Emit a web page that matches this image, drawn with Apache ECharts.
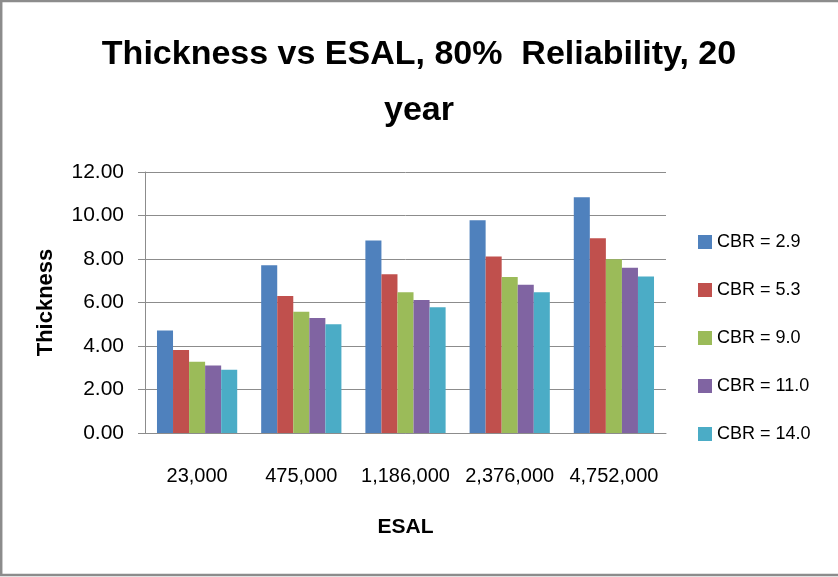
<!DOCTYPE html>
<html>
<head>
<meta charset="utf-8">
<script src="https://cdn.jsdelivr.net/npm/echarts@6/dist/echarts.min.js"></script>
<style>html,body{margin:0;padding:0;background:#fff;}#c{width:838px;height:577px;}</style>
</head>
<body>
<div id="c"></div>
<script>
const categories = ['23,000', '475,000', '1,186,000', '2,376,000', '4,752,000'];
const seriesNames = ['CBR = 2.9', 'CBR = 5.3', 'CBR = 9.0', 'CBR = 11.0', 'CBR = 14.0'];
const cbr29 = [4.71, 7.71, 8.85, 9.78, 10.84];
const cbr53 = [3.82, 6.30, 7.30, 8.12, 8.95];
const cbr90 = [3.28, 5.58, 6.47, 7.17, 7.99];
const cbr110 = [3.10, 5.29, 6.12, 6.82, 7.60];
const cbr140 = [2.91, 5.00, 5.78, 6.47, 7.19];
const colors = ['#4F81BD', '#C0504D', '#9BBB59', '#8064A2', '#4BACC6'];
const allValues = [cbr29, cbr53, cbr90, cbr110, cbr140];

const font = "'Liberation Sans', Arial, sans-serif";

const chart = echarts.init(document.getElementById('c'), null, {renderer: 'canvas'});
chart.setOption({
  animation: false,
  backgroundColor: '#fff',
  title: {
    text: 'Thickness vs ESAL, 80%  Reliability, 20\nyear',
    left: 'center',
    top: 22,
    textStyle: {fontFamily: font, fontWeight: 'bold', fontSize: 34, lineHeight: 56, color: '#000'}
  },
  legend: {
    orient: 'vertical',
    left: 693,
    top: 227,
    itemWidth: 14,
    itemHeight: 14,
    itemGap: 28,
    icon: 'rect',
    textStyle: {fontFamily: font, fontSize: 18, lineHeight: 20, color: '#000'},
    data: seriesNames
  },
  grid: {left: 145, right: 172, top: 172, bottom: 144, containLabel: false},
  xAxis: {
    type: 'category',
    data: categories,
    name: 'ESAL',
    nameLocation: 'middle',
    nameGap: 84,
    nameTextStyle: {fontFamily: font, fontWeight: 'bold', fontSize: 21, color: '#000'},
    axisLine: {show: true, lineStyle: {color: '#8c8c8c', width: 1}},
    axisTick: {show: false},
    axisLabel: {fontFamily: font, fontSize: 20, color: '#000', margin: 33, interval: 0, hideOverlap: false}
  },
  yAxis: {
    type: 'value',
    min: 0,
    max: 12,
    interval: 2,
    name: 'Thickness',
    nameLocation: 'middle',
    nameGap: 88,
    nameRotate: 90,
    nameTextStyle: {fontFamily: font, fontWeight: 'bold', fontSize: 22, color: '#000'},
    axisLine: {show: true, lineStyle: {color: '#8c8c8c', width: 1}},
    axisTick: {show: true, length: 7, lineStyle: {color: '#8c8c8c'}},
    splitLine: {show: true, lineStyle: {color: '#8c8c8c', width: 1}},
    axisLabel: {fontFamily: font, fontSize: 21, color: '#000', margin: 21, formatter: v => v.toFixed(2)}
  },
  series: seriesNames.map((n, i) => ({
    name: n,
    type: 'bar',
    data: allValues[i],
    barGap: '0%',
    barCategoryGap: '23%',
    itemStyle: {color: colors[i]}
  })),
  graphic: [{
    type: 'polyline',
    shape: {points: [[838, 1], [1.2, 1], [1.2, 575], [838, 575]]},
    style: {stroke: '#8c8c8c', lineWidth: 2.5, fill: null},
    silent: true
  }]
});
</script>
</body>
</html>
